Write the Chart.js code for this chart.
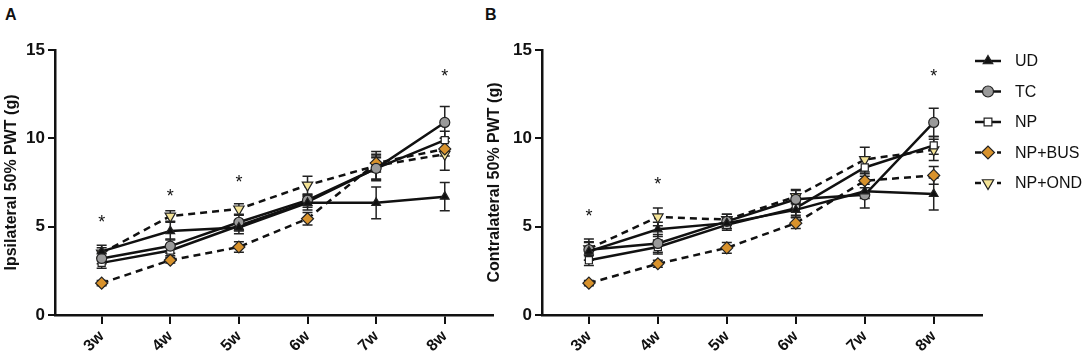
<!DOCTYPE html>
<html>
<head>
<meta charset="utf-8">
<script src="https://cdn.jsdelivr.net/npm/chart.js@4.4.1/dist/chart.umd.min.js"></script>
<style>
  body { margin: 0; background: #fff; width: 1084px; height: 361px; position: relative; overflow: hidden; font-family: Arial, "Liberation Sans", sans-serif; }
  canvas { position: absolute; top: 0; }
  #chartA { left: 0; }
  #chartB { left: 483px; }
  .tag { position: absolute; top: 6px; font: bold 16px Arial, "Liberation Sans", sans-serif; color: #111; }
</style>
</head>
<body>
<div class="tag" style="left:5px">A</div>
<div class="tag" style="left:485px">B</div>
<canvas id="chartA" width="500" height="361"></canvas>
<canvas id="chartB" width="601" height="361"></canvas>
<script>
// time points
const weeks = ['3w', '4w', '5w', '6w', '7w', '8w'];
const groups = ['UD', 'TC', 'NP', 'NP+BUS', 'NP+OND'];

// A - ipsilateral 50% PWT (g), mean and SEM
const ipsiUD  = [3.6, 4.75, 4.95, 6.35, 6.35, 6.7];
const ipsiTC  = [3.2, 3.9, 5.25, 6.5, 8.3, 10.9];
const ipsiNP  = [2.95, 3.65, 5.05, 6.4, 8.3, 9.9];
const ipsiBUS = [1.8, 3.1, 3.85, 5.45, 8.6, 9.4];
const ipsiOND = [3.5, 5.6, 6.0, 7.35, 8.45, 9.1];
const ipsiUDerr  = [0.35, 0.5, 0.35, 0.4, 0.9, 0.8];
const ipsiTCerr  = [0.3, 0.4, 0.4, 0.3, 0.7, 0.9];
const ipsiNPerr  = [0.3, 0.3, 0.3, 0.3, 0.6, 0.5];
const ipsiBUSerr = [0.15, 0.15, 0.3, 0.35, 0.5, 0.4];
const ipsiONDerr = [0.3, 0.3, 0.3, 0.5, 0.8, 0.9];
const ipsiStars  = [5.45, 6.9, 7.7, null, null, 13.7];

// B - contralateral 50% PWT (g)
const contraUD  = [3.6, 4.85, 5.2, 5.95, 7.0, 6.85];
const contraTC  = [3.7, 4.05, 5.3, 6.55, 6.8, 10.9];
const contraNP  = [3.1, 3.85, 5.1, 6.05, 8.35, 9.6];
const contraBUS = [1.8, 2.9, 3.8, 5.2, 7.6, 7.9];
const contraOND = [3.75, 5.55, 5.4, 6.7, 8.8, 9.35];
const contraUDerr  = [0.5, 0.4, 0.3, 0.4, 0.4, 0.9];
const contraTCerr  = [0.6, 0.5, 0.4, 0.5, 0.75, 0.8];
const contraNPerr  = [0.3, 0.4, 0.3, 0.4, 0.5, 0.5];
const contraBUSerr = [0.15, 0.2, 0.3, 0.3, 0.4, 0.5];
const contraONDerr = [0.4, 0.5, 0.3, 0.4, 0.7, 0.6];
const contraStars  = [5.8, 7.6, null, null, null, 13.7];

const yTicks = [0, 5, 10, 15];

const FONT = 'Arial, "Liberation Sans", sans-serif';

// marker / line look per group
const looks = [
  { pointStyle: 'triangle', rotation: 0, fill: '#111', radius: 5, dash: [] },
  { pointStyle: 'circle', rotation: 0, fill: '#9a9a9a', radius: 5, dash: [] },
  { pointStyle: 'rect', rotation: 0, fill: '#ffffff', radius: 5, dash: [] },
  { pointStyle: 'rectRot', rotation: 0, fill: '#d8922c', radius: 6, dash: [7, 5] },
  { pointStyle: 'triangle', rotation: 180, fill: '#f4e396', radius: 6, dash: [7, 5] }
];

function makeDatasets(series, errs) {
  return series.map((vals, g) => ({
    label: groups[g],
    data: vals.map((v, i) => ({ x: i, y: v })),
    errors: errs[g],
    borderColor: '#111',
    borderWidth: 2.5,
    borderDash: looks[g].dash,
    pointStyle: looks[g].pointStyle,
    rotation: looks[g].rotation,
    pointRadius: looks[g].radius,
    pointBackgroundColor: looks[g].fill,
    pointBorderColor: '#222',
    pointBorderWidth: 1.2,
    tension: 0,
    fill: false
  }));
}

const errorBars = {
  id: 'errorBars',
  beforeDatasetsDraw(chart) {
    const ctx = chart.ctx;
    const xs = chart.scales.x, ys = chart.scales.y;
    ctx.save();
    ctx.strokeStyle = '#222';
    ctx.lineWidth = 1.5;
    chart.data.datasets.forEach(ds => {
      ds.data.forEach((p, i) => {
        const e = ds.errors[i];
        const x = xs.getPixelForValue(p.x);
        const y1 = ys.getPixelForValue(p.y + e);
        const y2 = ys.getPixelForValue(p.y - e);
        ctx.beginPath();
        ctx.moveTo(x, y1); ctx.lineTo(x, y2);
        ctx.moveTo(x - 5, y1); ctx.lineTo(x + 5, y1);
        ctx.moveTo(x - 5, y2); ctx.lineTo(x + 5, y2);
        ctx.stroke();
      });
    });
    ctx.restore();
  }
};

function starsPlugin(values) {
  return {
    id: 'stars',
    afterDraw(chart) {
      const ctx = chart.ctx;
      ctx.save();
      ctx.fillStyle = '#111';
      ctx.font = '18px ' + FONT;
      ctx.textAlign = 'center';
      ctx.textBaseline = 'middle';
      values.forEach((v, i) => {
        if (v == null) return;
        ctx.fillText('*', chart.scales.x.getPixelForValue(i), chart.scales.y.getPixelForValue(v) + 4);
      });
      ctx.restore();
    }
  };
}

// legend on the right side of panel B
const sideLegend = {
  id: 'sideLegend',
  afterDraw(chart) {
    const ctx = chart.ctx;
    const x0 = 492, y0 = 61, step = 30.5;
    ctx.save();
    groups.forEach((name, g) => {
      const y = y0 + g * step;
      const lk = looks[g];
      ctx.strokeStyle = '#111';
      ctx.lineWidth = 2.5;
      ctx.setLineDash(lk.dash.length ? [6, 5] : []);
      ctx.beginPath();
      ctx.moveTo(x0, y); ctx.lineTo(x0 + 26, y);
      ctx.stroke();
      ctx.setLineDash([]);
      ctx.fillStyle = lk.fill;
      ctx.strokeStyle = '#222';
      ctx.lineWidth = 1.2;
      Chart.helpers.drawPoint(ctx, { pointStyle: lk.pointStyle, rotation: lk.rotation, radius: lk.radius + 0.5, borderWidth: 1.2 }, x0 + 13, y);
      ctx.fillStyle = '#111';
      ctx.font = '16px ' + FONT;
      ctx.textAlign = 'left';
      ctx.textBaseline = 'middle';
      ctx.fillText(name, x0 + 40, y + 1);
    });
    ctx.restore();
  }
};

function makeChart(id, series, errs, stars, yTitle, axisWidth, padRight, extra) {
  return new Chart(document.getElementById(id), {
    type: 'line',
    data: { datasets: makeDatasets(series, errs) },
    options: {
      responsive: false,
      animation: false,
      devicePixelRatio: 1,
      layout: { padding: { top: 50, right: padRight, bottom: 0, left: 0 } },
      plugins: { legend: { display: false }, tooltip: { enabled: false } },
      scales: {
        x: {
          type: 'linear',
          min: -0.68,
          max: 5.7,
          afterBuildTicks: s => { s.ticks = weeks.map((w, i) => ({ value: i })); },
          afterFit: s => { s.height = 46; },
          ticks: {
            callback: v => weeks[v],
            font: { family: FONT, size: 16, weight: 'bold' },
            color: '#111',
            minRotation: 45,
            maxRotation: 45,
            padding: 3
          },
          grid: { drawOnChartArea: false, drawTicks: true, tickLength: 9, color: '#111', lineWidth: 2 },
          border: { display: true, color: '#111', width: 2.5 }
        },
        y: {
          min: 0,
          max: 15,
          afterBuildTicks: s => { s.ticks = yTicks.map(v => ({ value: v })); },
          afterFit: s => { s.width = axisWidth; },
          ticks: {
            font: { family: FONT, size: 17, weight: 'bold' },
            color: '#111',
            padding: 3
          },
          grid: { drawOnChartArea: false, drawTicks: true, tickLength: 7, color: '#111', lineWidth: 2 },
          border: { display: true, color: '#111', width: 2.5 },
          title: {
            display: true,
            text: yTitle,
            font: { family: FONT, size: 16, weight: 'bold' },
            color: '#111',
            padding: 2
          }
        }
      }
    },
    plugins: [errorBars, starsPlugin(stars)].concat(extra)
  });
}

makeChart('chartA',
  [ipsiUD, ipsiTC, ipsiNP, ipsiBUS, ipsiOND],
  [ipsiUDerr, ipsiTCerr, ipsiNPerr, ipsiBUSerr, ipsiONDerr],
  ipsiStars, 'Ipsilateral 50% PWT (g)', 55, 3, []);

makeChart('chartB',
  [contraUD, contraTC, contraNP, contraBUS, contraOND],
  [contraUDerr, contraTCerr, contraNPerr, contraBUSerr, contraONDerr],
  contraStars, 'Contralateral 50% PWT (g)', 59, 102, [sideLegend]);
</script>
</body>
</html>
